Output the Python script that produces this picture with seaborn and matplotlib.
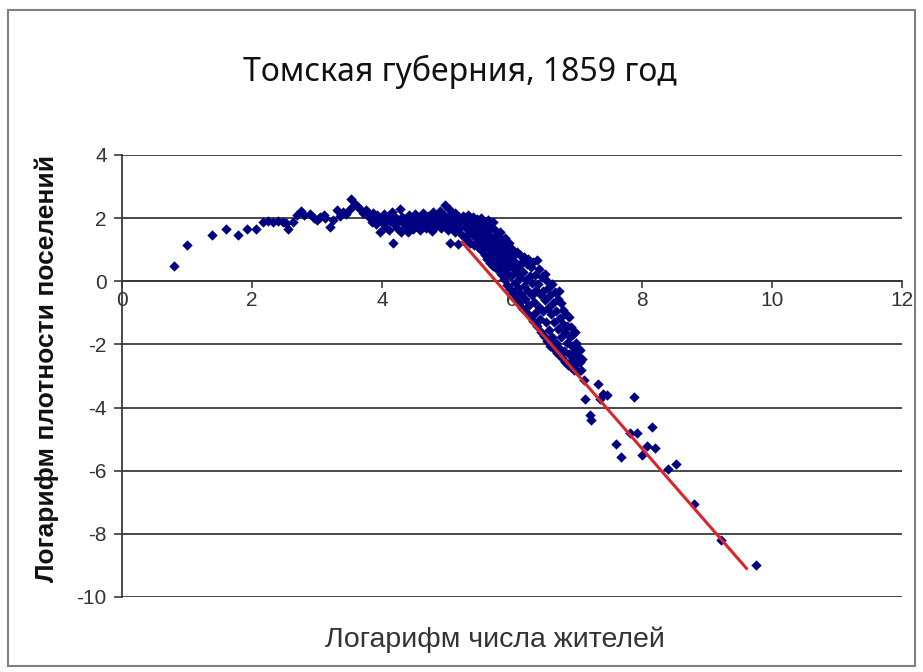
import numpy as np
import pandas as pd
import matplotlib
matplotlib.use("Agg")
import matplotlib.pyplot as plt
import seaborn as sns
from matplotlib.patches import Rectangle

# --- DATA ---
# sparse settlements on the left
left_x = [0.80, 1.00, 1.38, 1.60, 1.78, 1.92, 2.06, 2.17, 2.25, 2.32, 2.40, 2.47,
          2.52, 2.56, 2.63, 2.69, 2.75]
left_y = [0.48, 1.16, 1.48, 1.65, 1.48, 1.66, 1.65, 1.87, 1.90, 1.89, 1.90, 1.88,
          1.85, 1.65, 1.87, 2.09, 2.23]

# rising part 2.8 .. 3.8
rise_x = [2.80, 2.89, 2.95, 3.00, 3.05, 3.10, 3.12, 3.20, 3.25, 3.30, 3.36, 3.40,
          3.45, 3.50, 3.53, 3.58, 3.62, 3.66, 3.71, 3.76, 3.80]
rise_y = [2.10, 2.12, 2.02, 1.95, 2.04, 2.10, 1.99, 1.72, 1.95, 2.25, 2.08, 2.20,
          2.12, 2.30, 2.62, 2.46, 2.38, 2.30, 2.15, 2.25, 2.05]

# plateau 3.8 .. 5.25
plateau = [
    (3.82, 2.05), (3.84, 1.88), (3.86, 2.15), (3.88, 1.98), (3.90, 1.80), (3.93, 2.10),
    (3.95, 1.92), (3.97, 1.56), (3.99, 2.02), (4.01, 1.85), (4.03, 2.12), (4.05, 1.72),
    (4.07, 1.95), (4.09, 2.05), (4.11, 1.62), (4.13, 1.90), (4.15, 2.18), (4.17, 1.21),
    (4.19, 1.82), (4.21, 2.00), (4.23, 1.70), (4.25, 1.92), (4.28, 2.30), (4.29, 1.56),
    (4.31, 2.05), (4.33, 1.85), (4.35, 1.98), (4.37, 1.72), (4.40, 1.56), (4.41, 2.10),
    (4.43, 1.88), (4.45, 2.00), (4.47, 1.66), (4.49, 1.95), (4.51, 2.12), (4.53, 1.78),
    (4.55, 1.92), (4.57, 2.05), (4.59, 1.62), (4.61, 1.85), (4.63, 2.15), (4.65, 1.98),
    (4.67, 1.70), (4.69, 1.88), (4.71, 2.08), (4.73, 1.80), (4.75, 1.95), (4.77, 1.60),
    (4.79, 2.18), (4.81, 1.90), (4.83, 1.75), (4.85, 2.05), (4.87, 1.85), (4.89, 2.22),
    (4.91, 1.68), (4.93, 1.95), (4.95, 2.10), (4.97, 2.41), (4.98, 1.80), (5.00, 2.02),
    (5.02, 1.62), (5.03, 2.30), (5.04, 1.90), (5.05, 1.21), (5.06, 2.12), (5.08, 1.75),
    (5.10, 1.98), (5.12, 1.55), (5.13, 2.15), (5.15, 1.85), (5.17, 1.19), (5.18, 2.05),
    (5.19, 1.68), (5.21, 1.92), (5.23, 1.48), (5.24, 2.08),
]

# falling dense band 5.25 .. 7.1
band = [
    (5.26, 2.02), (5.27, 1.72), (5.29, 1.45), (5.30, 1.88), (5.31, 1.30), (5.32, 2.10),
    (5.34, 1.62), (5.35, 1.95), (5.36, 1.22), (5.37, 1.78), (5.39, 1.50), (5.40, 2.04),
    (5.41, 1.15), (5.42, 1.86), (5.44, 1.38), (5.45, 1.68), (5.46, 1.98), (5.47, 1.10),
    (5.49, 1.55), (5.50, 1.82), (5.51, 1.28), (5.52, 2.00),
    (5.53, 0.98), (5.54, 1.66), (5.55, 1.42), (5.56, 1.90), (5.57, 1.12), (5.58, 0.82),
    (5.59, 1.58), (5.60, 1.78), (5.61, 1.30), (5.62, 0.70), (5.63, 1.95), (5.64, 1.02),
    (5.65, 1.48), (5.66, 0.58), (5.67, 1.70), (5.68, 1.22), (5.69, 0.88), (5.70, 1.88),
    (5.71, 0.50), (5.72, 1.40), (5.73, 1.05), (5.74, 1.62), (5.75, 0.72),
    (5.76, 1.25), (5.77, 0.38), (5.78, 1.50), (5.79, 0.92), (5.80, 0.60), (5.81, 1.12),
    (5.82, 1.56), (5.83, 0.22), (5.84, 0.78), (5.85, 1.32), (5.86, 0.45), (5.87, 1.02),
    (5.88, 0.08), (5.89, 1.38), (5.90, 0.62), (5.91, 0.30), (5.92, 1.15), (5.93, -0.12),
    (5.94, 0.85), (5.95, 0.48), (5.96, 1.22), (5.97, -0.25), (5.98, 0.70), (5.99, 0.18),
    (6.00, 1.02),
    (6.01, -0.38), (6.02, 0.42), (6.03, 0.82), (6.04, -0.05), (6.05, 0.60), (6.06, -0.55),
    (6.07, 0.25), (6.08, 0.92), (6.09, -0.22), (6.10, 0.48), (6.11, -0.70), (6.12, 0.82),
    (6.13, 0.10), (6.14, -0.40), (6.15, 0.62), (6.16, -0.85), (6.17, 0.30), (6.18, -0.15),
    (6.19, 0.78), (6.20, -0.55), (6.21, 0.05), (6.22, -0.98), (6.23, 0.55), (6.24, -0.30),
    (6.25, 0.72), (6.26, -0.75), (6.27, 0.18), (6.28, -1.10), (6.29, 0.45), (6.30, -0.42),
    (6.31, -0.05), (6.32, -1.25), (6.33, 0.62), (6.34, -0.65), (6.35, 0.20), (6.36, -1.02),
    (6.37, -0.28), (6.38, 0.66), (6.39, -1.42), (6.40, -0.10), (6.41, -0.82), (6.42, 0.38),
    (6.43, -1.18), (6.44, -0.45), (6.45, -1.60), (6.46, 0.12), (6.47, -0.95), (6.48, -0.30),
    (6.49, -1.72),
    (6.50, 0.22), (6.51, -0.60), (6.52, -1.30), (6.53, 0.05), (6.54, -1.88), (6.55, -0.85),
    (6.56, -0.20), (6.57, -1.55), (6.58, -2.05), (6.59, -0.45), (6.60, -1.05), (6.61, -0.10),
    (6.62, -1.75), (6.63, -0.70), (6.64, -2.15), (6.65, -1.30), (6.66, -0.35), (6.67, -1.95),
    (6.68, -0.95), (6.69, -2.28), (6.70, -0.55), (6.71, -1.50), (6.72, -0.30), (6.73, -2.10),
    (6.74, -1.15), (6.75, -0.68),
    (6.76, -1.78), (6.77, -2.42), (6.78, -1.35), (6.79, -0.90), (6.80, -2.20), (6.81, -1.62),
    (6.82, -2.55), (6.83, -1.05), (6.84, -1.95), (6.85, -1.42), (6.86, -2.65), (6.87, -1.13),
    (6.88, -2.30), (6.89, -1.75), (6.90, -2.72), (6.91, -1.45), (6.92, -2.05), (6.93, -2.50),
    (6.94, -1.68), (6.95, -2.80), (6.96, -2.25), (6.97, -1.60), (6.98, -1.95), (6.99, -2.62),
    (7.00, -2.35), (7.01, -2.88), (7.02, -2.10), (7.04, -2.55), (7.05, -2.19), (7.06, -2.82),
    (7.08, -2.45), (7.10, -3.14),
]

# sparse tail of large settlements
tail_x = [7.12, 7.20, 7.22, 7.33, 7.35, 7.40, 7.46, 7.60, 7.68, 7.82, 7.87, 7.92,
          8.00, 8.08, 8.15, 8.20, 8.40, 8.52, 8.80, 9.22, 9.75]
tail_y = [-3.72, -4.24, -4.40, -3.24, -3.72, -3.56, -3.61, -5.16, -5.56, -4.82, -3.66, -4.82,
          -5.51, -5.23, -4.62, -5.27, -5.96, -5.80, -7.06, -8.20, -9.00]

# fitted line endpoints
fit_x = [5.23, 9.61]
fit_y = [1.24, -9.10]

x_ticks = [0, 2, 4, 6, 8, 10, 12]
y_ticks = [4, 2, 0, -2, -4, -6, -8, -10]

TITLE = "Томская губерния, 1859 год"
XLABEL = "Логарифм числа жителей"
YLABEL = "Логарифм плотности поселений"

pts = plateau + band
df = pd.DataFrame({
    "x": left_x + rise_x + [p[0] for p in pts] + tail_x,
    "y": left_y + rise_y + [p[1] for p in pts] + tail_y,
})

sns.set_theme(style="white")
plt.rcParams["font.family"] = ["Liberation Sans", "DejaVu Sans"]
plt.rcParams["axes.unicode_minus"] = False

W, H = 923, 672
fig = plt.figure(figsize=(W / 100, H / 100), dpi=100)
ax = fig.add_axes([122 / W, 1 - 597 / H, 780 / W, 442 / H])

for yt in y_ticks:
    ax.axhline(yt, color="#3a3a3a", lw=1.3, zorder=1)

sns.scatterplot(data=df, x="x", y="y", ax=ax, marker="D", s=28,
                color="#000080", linewidth=0, zorder=3, legend=False)
sns.lineplot(x=fit_x, y=fit_y, ax=ax, color="#d8262b", lw=2.2, zorder=4)

ax.set_xlim(0, 12)
ax.set_ylim(-10, 4)
ax.set_xticks(x_ticks)
ax.set_yticks(y_ticks)
ax.set_xlabel("")
ax.set_ylabel("")

for s in ["top", "right"]:
    ax.spines[s].set_visible(False)
ax.spines["bottom"].set_position(("data", 0))
for s in ["bottom", "left"]:
    ax.spines[s].set_color("#3a3a3a")
    ax.spines[s].set_linewidth(1.3)

ax.tick_params(axis="both", direction="out", width=1.2, color="#3a3a3a",
               labelsize=15, labelcolor="#333333")
ax.tick_params(axis="x", length=5, pad=2, bottom=True)
ax.tick_params(axis="y", length=6, pad=5, left=True)

fig.text(460 / W, 1 - 72 / H, TITLE, ha="center", va="center", fontsize=23,
         family=["Noto Sans", "DejaVu Sans"], color="#111111")
fig.text(495 / W, 1 - 640 / H, XLABEL, ha="center", va="center", fontsize=20.5,
         color="#333333")
fig.text(47 / W, 1 - 368 / H, YLABEL, ha="center", va="center", fontsize=19,
         fontweight="bold", rotation=90, color="#111111")

# chart area border
fig.patches.append(Rectangle((8 / W, 1 - 666 / H), 907 / W, 656 / H,
                             transform=fig.transFigure, fill=False,
                             edgecolor="#7f7f7f", lw=1.5))

fig.savefig("out.png", dpi=100, facecolor="white")
